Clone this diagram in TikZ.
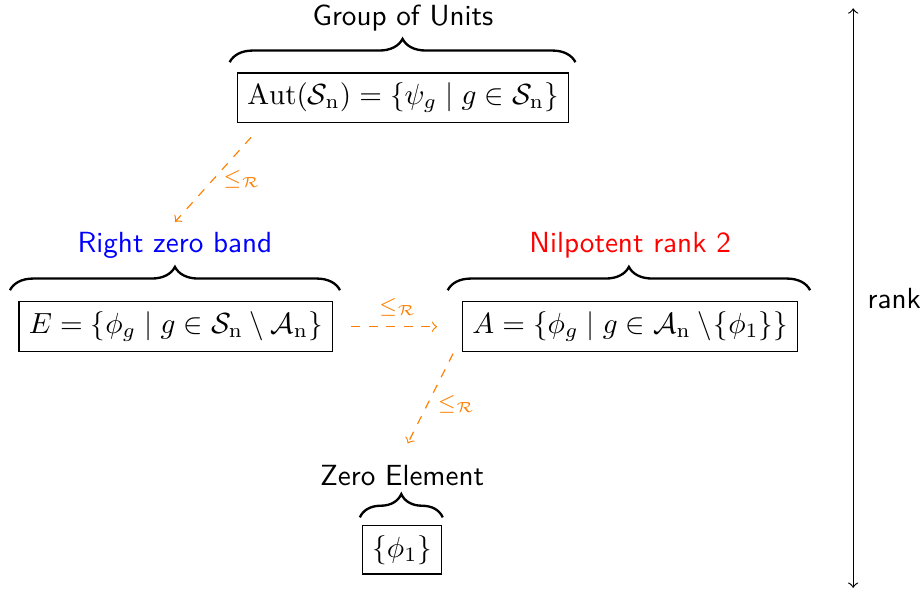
\documentclass[tikz,border=0pt]{standalone}
\usetikzlibrary{decorations.pathreplacing}

\tikzset{
  setbox/.style={draw, thin},
  layer/.style={font=\sffamily},
  leq/.style={->, dashed, orange},
  brc/.style={decorate, decoration={brace, amplitude=8pt}, thick}
}

\begin{document}
\begin{tikzpicture}[scale=1]
\useasboundingbox (0,0) rectangle (11.12,-7.13);

% the four layers, top to bottom
\node[setbox] (aut) at (4.86,-1.18) {$\mathrm{Aut}(\mathcal{S}_{\mathrm{n}})=\{\psi_g \mid g\in\mathcal{S}_{\mathrm{n}}\}$};
\node[setbox] (E) at (2.12,-3.94) {$E=\{\phi_g \mid g\in\mathcal{S}_{\mathrm{n}}\setminus\mathcal{A}_{\mathrm{n}}\}$};
\node[setbox] (A) at (7.60,-3.94) {$A=\{\phi_g \mid g\in\mathcal{A}_{\mathrm{n}}\setminus\!\{\phi_1\}\}$};
\node[setbox] (zero) at (4.85,-6.63) {$\{\phi_1\}$};

% braces with their names
\draw[brc] (2.77,-0.75) -- (6.94,-0.75);
\node[layer] (units) at (4.86,-0.22) {Group of Units};

\draw[brc] (0.12,-3.50) -- (4.10,-3.50);
\node[layer, blue] (rzb) at (2.11,-2.96) {Right zero band};

\draw[brc] (5.40,-3.50) -- (9.77,-3.50);
\node[layer, red] (nil) at (7.60,-2.96) {Nilpotent rank 2};

\draw[brc] (4.34,-6.24) -- (5.34,-6.24);
\node[layer] (zel) at (4.85,-5.73) {Zero Element};

% R-order between the layers
\draw[leq] ([shift={(0.17,-0.17)}]aut.south west) -- (rzb.north)
  node[midway, right, font=\scriptsize] {$\le_{\mathcal{R}}$};
\draw[leq, shorten <=0.22cm, shorten >=0.30cm] (E.east) -- (A.west)
  node[midway, above, font=\scriptsize] {$\le_{\mathcal{R}}$};
\draw[leq, shorten >=0.15cm] ([shift={(-0.11,-0.02)}]A.south west) -- (zel.north)
  node[midway, right, font=\scriptsize] {$\le_{\mathcal{R}}$};

% rank axis
\coordinate (rtop) at (10.29,-0.10);
\coordinate (rbot) at (10.29,-7.09);
\draw[<->] (rtop) -- (rbot) node[midway, right, layer, xshift=0.05cm] {rank};
\end{tikzpicture}
\end{document}
